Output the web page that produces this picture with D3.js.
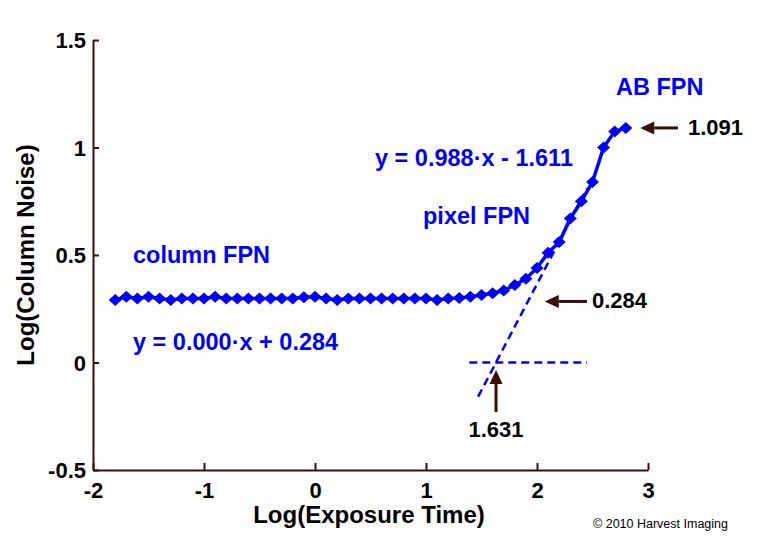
<!DOCTYPE html>
<html lang="en">
<head>
    <meta charset="UTF-8">
    <title>Log(Column Noise) vs Log(Exposure Time)</title>
    <script src="https://d3js.org/d3.v7.min.js"></script>
    <style>
        body { margin: 0; background: #fff; }
        svg { display: block; font-family: "Liberation Sans", Arial, sans-serif; }
    </style>
</head>
<body>
    <svg width="762" height="537"></svg>
    <script>
        // log exposure time (x) and measured log column noise (y)
        const logTime = [
            -1.8, -1.7, -1.6, -1.5, -1.4, -1.3, -1.2, -1.1, -1.0, -0.9,
            -0.8, -0.7, -0.6, -0.5, -0.4, -0.3, -0.2, -0.1, 0.0, 0.1,
            0.2, 0.3, 0.4, 0.5, 0.6, 0.7, 0.8, 0.9, 1.0, 1.1,
            1.2, 1.3, 1.4, 1.5, 1.6, 1.7, 1.8, 1.9, 2.0, 2.1,
            2.2, 2.3, 2.4, 2.5, 2.6, 2.7, 2.8
        ];
        const logNoise = [
            0.291, 0.306, 0.298, 0.306, 0.298, 0.291, 0.298, 0.298, 0.298, 0.306,
            0.298, 0.298, 0.298, 0.298, 0.298, 0.298, 0.298, 0.303, 0.306, 0.298,
            0.291, 0.298, 0.298, 0.298, 0.298, 0.298, 0.298, 0.298, 0.298, 0.291,
            0.298, 0.300, 0.306, 0.314, 0.322, 0.335, 0.360, 0.390, 0.440, 0.510,
            0.560, 0.670, 0.750, 0.840, 1.000, 1.075, 1.091
        ];

        // fitted lines
        const pixelFit = { slope: 0.988, offset: -1.611, from: 1.47, to: 2.45 };
        const zeroLine = { y: 0, from: 1.39, to: 2.45 };

        const xTicks = [-2, -1, 0, 1, 2, 3];
        const yTicks = [-0.5, 0, 0.5, 1, 1.5];

        const blue = "#0000ff";
        const brown = "#3b0d0d";

        const svg = d3.select("svg");

        const x = d3.scaleLinear().domain([-2, 3]).range([93, 648]);
        const y = d3.scaleLinear().domain([-0.5, 1.5]).range([470, 40]);

        // axes (plain hyphen for negatives, like the original)
        const xAxis = svg.append("g")
            .attr("transform", `translate(0,${y(-0.5)})`)
            .call(d3.axisBottom(x).tickValues(xTicks).tickSize(-7).tickSizeOuter(0)
                .tickFormat(d => String(d)));
        const yAxis = svg.append("g")
            .attr("transform", `translate(${x(-2)},0)`)
            .call(d3.axisLeft(y).tickValues(yTicks).tickSize(-6).tickSizeOuter(0).tickPadding(7)
                .tickFormat(d => String(d)));

        [xAxis, yAxis].forEach(a => {
            a.selectAll("path, line").attr("stroke", brown).attr("stroke-width", 2);
            a.selectAll("text")
                .attr("fill", "#000")
                .style("font-size", "22px")
                .style("font-weight", "bold")
                .style("font-family", "'Liberation Sans', Arial, sans-serif");
        });
        xAxis.selectAll("text").attr("dy", null).attr("y", 28);
        yAxis.selectAll("text").attr("dy", "0.36em");

        // axis titles
        svg.append("text")
            .attr("x", 369).attr("y", 523)
            .attr("text-anchor", "middle")
            .style("font-size", "24px").style("font-weight", "bold")
            .text("Log(Exposure Time)");
        svg.append("text")
            .attr("transform", "translate(34,255) rotate(-90)")
            .attr("text-anchor", "middle")
            .style("font-size", "24px").style("font-weight", "bold")
            .text("Log(Column Noise)");

        svg.append("text")
            .attr("x", 593).attr("y", 528)
            .attr("textLength", 135).attr("lengthAdjust", "spacingAndGlyphs")
            .style("font-size", "12px")
            .text("© 2010 Harvest Imaging");

        // dashed fit lines
        svg.append("line")
            .attr("x1", x(zeroLine.from)).attr("x2", x(zeroLine.to))
            .attr("y1", y(zeroLine.y)).attr("y2", y(zeroLine.y))
            .attr("stroke", blue).attr("stroke-width", 2.5)
            .attr("stroke-dasharray", "8,5");
        svg.append("line")
            .attr("x1", x(pixelFit.from)).attr("y1", y(pixelFit.slope * pixelFit.from + pixelFit.offset))
            .attr("x2", x(pixelFit.to)).attr("y2", y(pixelFit.slope * pixelFit.to + pixelFit.offset))
            .attr("stroke", blue).attr("stroke-width", 2.5)
            .attr("stroke-dasharray", "8,5");

        // measured data
        const data = logTime.map((t, i) => ({ t: t, n: logNoise[i] }));

        svg.append("path")
            .datum(data)
            .attr("fill", "none")
            .attr("stroke", blue)
            .attr("stroke-width", 3.5)
            .attr("d", d3.line().x(d => x(d.t)).y(d => y(d.n)));

        svg.selectAll(".pt")
            .data(data)
            .enter()
            .append("path")
            .attr("class", "pt")
            .attr("transform", d => `translate(${x(d.t)},${y(d.n)})`)
            .attr("d", "M0,-6L6.5,0L0,6L-6.5,0Z")
            .attr("fill", blue);

        // blue labels
        const labels = [
            { text: "AB FPN", px: 616, py: 95 },
            { text: "y = 0.988·x - 1.611", px: 375, py: 166 },
            { text: "pixel FPN", px: 423, py: 224 },
            { text: "column FPN", px: 133, py: 263 },
            { text: "y = 0.000·x + 0.284", px: 133, py: 350 }
        ];
        svg.selectAll(".lbl")
            .data(labels)
            .enter()
            .append("text")
            .attr("class", "lbl")
            .attr("x", d => d.px).attr("y", d => d.py)
            .attr("fill", blue)
            .style("font-size", "23.5px").style("font-weight", "bold")
            .text(d => d.text);

        // arrows with values
        function arrow(x1, y1, x2, y2) {
            const ang = Math.atan2(y2 - y1, x2 - x1);
            const len = 14, half = 6.5;
            const bx = x2 - len * Math.cos(ang), by = y2 - len * Math.sin(ang);
            svg.append("line")
                .attr("x1", x1).attr("y1", y1).attr("x2", bx).attr("y2", by)
                .attr("stroke", brown).attr("stroke-width", 3);
            const px = -Math.sin(ang) * half, py = Math.cos(ang) * half;
            svg.append("path")
                .attr("d", `M${x2},${y2}L${bx + px},${by + py}L${bx - px},${by - py}Z`)
                .attr("fill", brown);
        }

        arrow(x(3.27), y(1.091), x(2.93), y(1.091));
        arrow(x(2.45), y(0.284), x(2.07), y(0.284));
        arrow(x(1.631), y(-0.23), x(1.631), y(-0.035));

        const values = [
            { text: "1.091", px: 688, py: 135, anchor: "start" },
            { text: "0.284", px: 592, py: 308, anchor: "start" },
            { text: "1.631", px: 496, py: 437, anchor: "middle" }
        ];
        svg.selectAll(".val")
            .data(values)
            .enter()
            .append("text")
            .attr("class", "val")
            .attr("x", d => d.px).attr("y", d => d.py)
            .attr("text-anchor", d => d.anchor)
            .attr("fill", "#000")
            .style("font-size", "22px").style("font-weight", "bold")
            .text(d => d.text);
    </script>
</body>
</html>
